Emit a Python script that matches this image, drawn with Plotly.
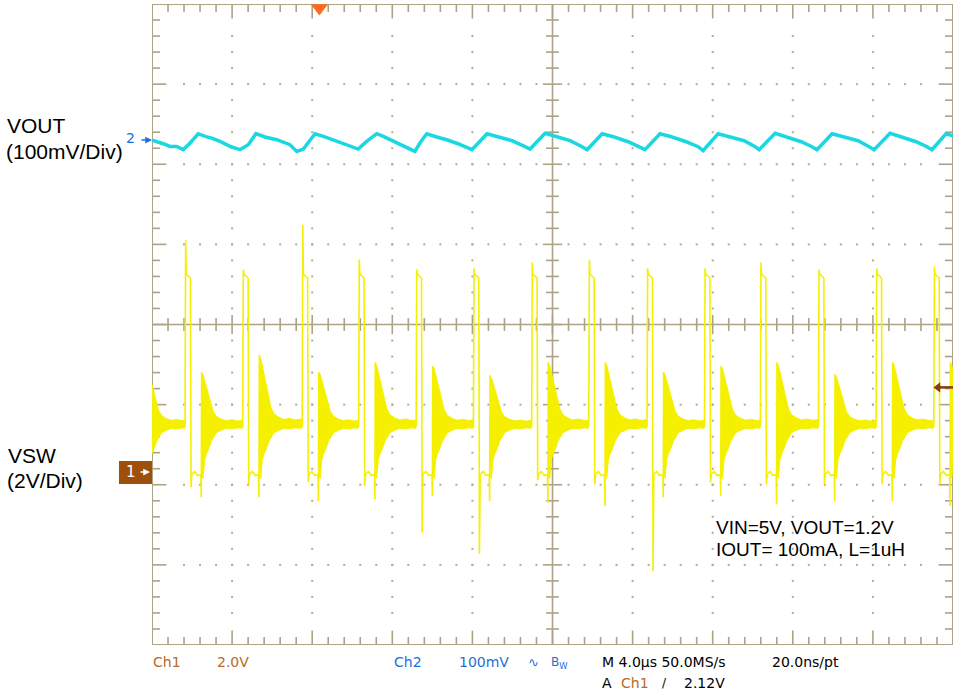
import plotly.graph_objects as go

# ---------------- data ----------------
# time in us (4 us/div, 10 div), Ch1 in volts, Ch2 in mV

# VSW switching cycles: rising edge time and per-cycle levels
rise_t = [-1.05, 1.68, 4.56, 7.53, 10.35, 13.22, 16.08, 18.99, 21.84, 24.75,
          27.62, 30.41, 33.31, 36.19, 39.07]
spike_v = [5.30, 5.79, 5.06, 6.18, 5.31, 5.06, 5.09, 5.24, 5.31, 5.09,
           5.09, 5.24, 5.06, 5.09, 5.14]
fall_min_v = [-0.30, -0.37, -0.30, -0.25, -0.34, -1.50, -2.04, -0.20, -0.30, -2.47,
              -0.25, -0.30, -0.30, -0.30, -0.30]
ring_peak_v = [2.60, 2.49, 2.92, 2.50, 2.74, 2.65, 2.42, 2.74, 2.74, 2.50,
               2.65, 2.74, 2.44, 2.74, 2.74]
ring_neg_v = [-0.70, -0.62, -0.62, -0.72, -0.67, -0.59, -0.72, -0.76, -0.84, -0.62,
              -0.59, -0.80, -0.72, -0.72, -0.84]

# shape of one switching cycle, offsets after the rising edge (us) and volts
pulse_dt = [-0.03, 0.03, 0.24, 0.31, 0.45, 0.60, 0.76, 0.83, 1.00]
pulse_v = [1.15, 4.95, 4.85, -0.05, 0.02, -0.08, -0.05, 1.90, 1.20]
high_w = 0.27      # rise -> fall
ring_delay = 0.80  # rise -> start of ringing

# ringing envelope after ring start (reference ring peak 2.5 V)
env_dt = [0.00, 0.07, 0.15, 0.23, 0.32, 0.40, 0.48, 0.57, 0.73, 0.98, 1.23, 1.50, 1.80, 2.05]
env_hi = [2.50, 2.44, 2.30, 2.15, 1.98, 1.82, 1.68, 1.53, 1.40, 1.33, 1.29, 1.31, 1.28, 1.30]
env_lo = [-0.05, -0.15, 0.32, 0.45, 0.57, 0.65, 0.78, 0.85, 0.99, 1.05, 1.10, 1.09, 1.11, 1.10]

# VOUT ripple (Ch2, 100 mV/div)
vout_t = [0.00, 0.23, 0.56, 0.90, 1.23, 1.56, 1.90, 2.31, 2.65, 2.98, 3.40, 3.90, 4.39,
          4.81, 5.19, 5.64, 6.23, 6.89, 7.23, 7.56, 7.89, 8.14, 8.56, 9.22, 9.89,
          10.30, 10.72, 11.22, 11.55, 12.22, 12.72, 13.13, 13.38, 13.72, 14.22, 14.72,
          15.28, 15.98, 16.73, 17.23, 17.98, 18.63, 18.88, 19.63, 20.18, 20.88, 21.48,
          21.73, 22.48, 23.03, 23.78, 24.37, 24.62, 25.37, 25.92, 26.67, 27.27, 27.52,
          28.27, 28.82, 29.57, 30.12, 30.32, 31.12, 31.67, 32.42, 32.96, 33.21, 33.96,
          34.51, 35.26, 35.81, 36.06, 36.86, 37.41, 38.16, 38.70, 38.95, 39.65, 40.00]
vout_mv = [-1.5, -3.0, -5.9, -9.2, -9.2, -13.3, -5.0, 6.6, 3.2, 1.2, -3.0, -9.2, -13.3,
           -7.1, 6.6, 2.5, -0.9, -7.1, -15.5, -12.5, -0.9, 6.6, 3.2, -3.0, -9.2,
           -12.5, -3.0, 6.6, 3.2, -5.0, -11.2, -15.5, -5.0, 6.6, 2.5, -0.9,
           -5.9, -13.3, 6.6, 2.9, -2.1, -9.6, -12.5, 7.2, 2.9, -2.1, -9.6,
           -13.3, 6.6, 2.9, -3.4, -9.6, -13.3, 6.6, 2.9, -3.4, -9.6, -14.6,
           6.6, 2.9, -2.1, -9.6, -13.3, 7.2, 2.9, -3.4, -9.6, -13.3, 6.6,
           2.9, -2.1, -9.6, -13.3, 7.2, 2.9, -3.4, -9.6, -13.3, 6.6, 4.1]

# channel scale / reference positions (divisions from screen centre)
CH1_OFF, CH1_SCALE = -1.845, 2.0
CH2_OFF, CH2_SCALE = 2.315, 100.0
TRIG_T, TRIG_V = 8.36, 2.12

W, H = 956, 692
X0, X1, Y0, Y1 = 152, 953, 4, 645  # graticule in pixels
GRID = "#aca286"
DOT = "#b3aa92"
YEL = "#f4f000"
CYAN = "#19d8e2"
CH1C = "#b86b25"
CH2C = "#1e6fd9"
BROWN = "#8a3b0c"


def ch1(v):
    return CH1_OFF + v / CH1_SCALE


def px(x):
    return x / W


def py(y):
    return 1 - y / H


# ---------------- build VSW trace ----------------
vx, vy = [], []
fx, fy = [], []
for i, r in enumerate(rise_t):
    pts = [(r + pulse_dt[0], pulse_v[0]), (r, spike_v[i]),
           (r + pulse_dt[1], pulse_v[1]), (r + pulse_dt[2], pulse_v[2]),
           (r + high_w, fall_min_v[i])]
    for dt, v in zip(pulse_dt[3:7], pulse_v[3:7]):
        pts.append((r + dt, v))
    pts += [(r + ring_delay - 0.02, ring_neg_v[i]), (r + ring_delay, ring_peak_v[i])]
    for dt, v in zip(pulse_dt[7:], pulse_v[7:]):
        pts.append((r + dt, v))
    for t, v in pts:
        vx.append(t)
        vy.append(ch1(v))

    s = r + ring_delay
    end = rise_t[i + 1] - 0.05 if i + 1 < len(rise_t) else 41
    k = (ring_peak_v[i] - 1.2) / (env_hi[0] - 1.2)
    hx, hy, lx, ly = [], [], [], []
    for dt, hi, lo in zip(env_dt, env_hi, env_lo):
        if s + dt >= end:
            break
        hx.append(s + dt)
        hy.append(ch1(1.2 + (hi - 1.2) * k))
        lx.append(s + dt)
        ly.append(ch1(lo))
    hx.append(end)
    hy.append(ch1(env_hi[-1]))
    lx.append(end)
    ly.append(ch1(env_lo[-1]))
    fx += hx + lx[::-1] + [None]
    fy += hy + ly[::-1] + [None]

fig = go.Figure()

# ---------------- graticule ----------------
tx, ty = [], []
for k in range(1, 50):
    t = k * 0.8
    major = k % 5 == 0
    L = 0.18 if major else 0.1
    c = 0.12 if major else 0.08
    tx += [t, t, None, t, t, None, t, t, None]
    ty += [4, 4 - L, None, -4, -4 + L, None, -c, c, None]
for k in range(1, 40):
    y = -4 + k * 0.2
    major = k % 5 == 0
    L = 0.72 if major else 0.4
    c = 0.48 if major else 0.32
    tx += [0, L, None, 40, 40 - L, None, 20 - c, 20 + c, None]
    ty += [y, y, None, y, y, None, y, y, None]
fig.add_trace(go.Scatter(x=tx, y=ty, mode="lines", line=dict(color=GRID, width=1.6),
                         hoverinfo="skip", showlegend=False))

dx, dy = [], []
for d in [1, 2, 3, 4, 6, 7, 8, 9]:
    for k in range(2, 39):
        dx.append(d * 4)
        dy.append(-4 + k * 0.2)
for d in [-3, -2, -1, 1, 2, 3]:
    for k in range(2, 49):
        if k == 25:
            continue
        dx.append(k * 0.8)
        dy.append(d)
fig.add_trace(go.Scatter(x=dx, y=dy, mode="markers",
                         marker=dict(symbol="square", size=2, color=DOT, line=dict(width=0)),
                         hoverinfo="skip", showlegend=False))

# ---------------- waveforms ----------------
fig.add_trace(go.Scatter(x=fx, y=fy, mode="lines", fill="toself", fillcolor=YEL,
                         line=dict(color=YEL, width=1), hoverinfo="skip", showlegend=False))
fig.add_trace(go.Scatter(x=vx, y=vy, mode="lines", line=dict(color=YEL, width=1.6),
                         hoverinfo="skip", showlegend=False))
fig.add_trace(go.Scatter(x=vout_t, y=[CH2_OFF + m / CH2_SCALE for m in vout_mv],
                         mode="lines", line=dict(color=CYAN, width=3.5),
                         hoverinfo="skip", showlegend=False))

# trigger position marker
fig.add_trace(go.Scatter(x=[TRIG_T], y=[3.95], mode="markers", cliponaxis=False,
                         marker=dict(symbol="triangle-down", size=15, color="#ff6a1c",
                                     line=dict(width=0)),
                         hoverinfo="skip", showlegend=False))
# trigger level marker (right edge)
fig.add_trace(go.Scatter(x=[39.25], y=[ch1(TRIG_V)], mode="markers", cliponaxis=False,
                         marker=dict(symbol="triangle-left", size=9, color=BROWN,
                                     line=dict(width=0)),
                         hoverinfo="skip", showlegend=False))

shapes = [
    dict(type="rect", xref="x", yref="y", x0=0, x1=40, y0=-4, y1=4,
         line=dict(color=GRID, width=2), layer="below"),
    dict(type="line", xref="x", yref="y", x0=20, x1=20, y0=-4, y1=4,
         line=dict(color=GRID, width=1.6), layer="below"),
    dict(type="line", xref="x", yref="y", x0=0, x1=40, y0=0, y1=0,
         line=dict(color=GRID, width=1.6), layer="below"),
    dict(type="rect", xref="paper", yref="paper", x0=px(119), x1=px(152),
         y0=py(484), y1=py(461), fillcolor="#9e4f0b", line=dict(width=0)),
    dict(type="line", xref="x", yref="y", x0=39.3, x1=40, y0=ch1(TRIG_V), y1=ch1(TRIG_V),
         line=dict(color=BROWN, width=2.5)),
]

LBL = "Liberation Sans, Arial, sans-serif"
SCP = "DejaVu Sans, sans-serif"


def txt(x, y, s, size, color="black", font=LBL, anchor="left"):
    return dict(x=px(x), y=py(y), xref="paper", yref="paper", text=s, showarrow=False,
                xanchor=anchor, yanchor="middle", font=dict(family=font, size=size, color=color))


ann = [
    txt(5, 125, "VOUT", 21), txt(4, 151, "(100mV/Div)", 21),
    txt(6, 455, "VSW", 21), txt(5, 480, "(2V/Div)", 21),
    txt(714, 527, "VIN=5V, VOUT=1.2V", 19), txt(714, 549, "IOUT= 100mA, L=1uH", 19),
    txt(151, 662, "Ch1", 14, CH1C, SCP), txt(215, 662, "2.0V", 14, CH1C, SCP),
    txt(392, 662, "Ch2", 14, CH2C, SCP), txt(457, 662, "100mV", 14, CH2C, SCP),
    txt(526, 662, "∿", 13, CH2C, SCP), txt(549, 663, "B<sub>W</sub>", 12, CH2C, SCP),
    txt(600, 662, "M 4.0µs 50.0MS/s", 14, "black", SCP),
    txt(770, 662, "20.0ns/pt", 14, "black", SCP),
    txt(600, 683, "A", 14, "black", SCP), txt(619, 683, "Ch1", 14, CH1C, SCP),
    txt(660, 683, "/", 12, "black", SCP), txt(682, 683, "2.12V", 14, "black", SCP),
    txt(137, 138, "2", 14, CH2C, SCP, "right"),
    txt(131, 472, "1", 15, "white", SCP, "center"),
    # marker arrows
    dict(x=px(152), y=py(140), xref="paper", yref="paper", ax=-12, ay=0, text="",
         showarrow=True, arrowhead=2, arrowsize=0.9, arrowwidth=1.5, arrowcolor=CH2C),
    dict(x=px(150), y=py(472), xref="paper", yref="paper", ax=-11, ay=0, text="",
         showarrow=True, arrowhead=2, arrowsize=0.9, arrowwidth=1.5, arrowcolor="white"),
]

fig.update_layout(
    width=W, height=H, margin=dict(l=0, r=0, t=0, b=0),
    paper_bgcolor="white", plot_bgcolor="white",
    xaxis=dict(domain=[px(X0), px(X1)], range=[0, 40], visible=False, fixedrange=True),
    yaxis=dict(domain=[py(Y1), py(Y0)], range=[-4, 4], visible=False, fixedrange=True),
    shapes=shapes, annotations=ann, showlegend=False,
)

# page body has a default 8px margin; drop it so the figure fills the window
fig.write_html("out.html", config={"displayModeBar": False},
               post_script="document.body.style.margin='0';document.body.style.overflow='hidden';")
